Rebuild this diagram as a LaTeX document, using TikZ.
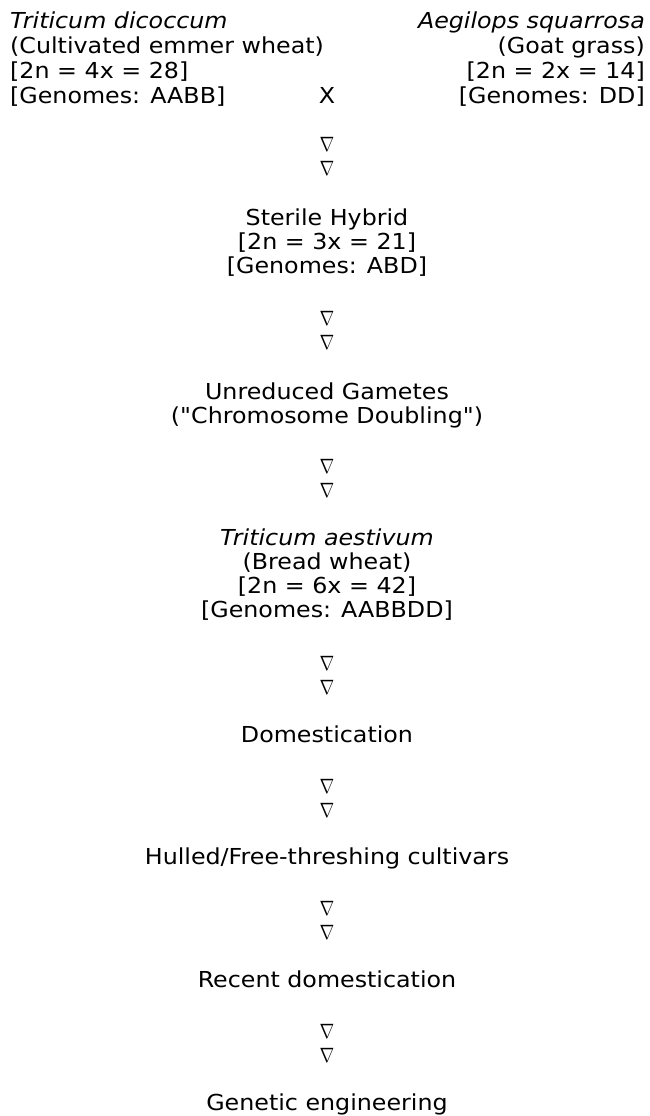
\documentclass[tikz,border=0pt]{standalone}
\usepackage{fontspec}
\usepackage{graphicx}
\newfontfamily\vfont{DejaVu Sans}[FakeStretch=1.08]
\newcommand{\fr}{\rule{0pt}{17pt}}
\newcommand{\nb}{\scalebox{0.85}[1]{$\nabla$}}
\begin{document}
\begin{tikzpicture}[x=1pt,y=-1pt,
  lbl/.style={inner sep=0pt,font=\vfont\fontsize{22}{24}\selectfont},
  blk/.style={lbl,align=center,anchor=north},
  nab/.style={inner sep=0pt,align=center,anchor=north,font=\fontsize{20}{24}\selectfont}]
\useasboundingbox (0,0) rectangle (650,1116);
\node[lbl,align=left,anchor=north west,font=\vfont\fontsize{22}{25}\selectfont] (dic) at (10,11) {\fr\textit{Triticum dicoccum}\\(Cultivated emmer wheat)\\{[2n = 4x = 28]}\\{[Genomes: AABB]}};
\node[lbl,align=right,anchor=north east,font=\vfont\fontsize{22}{25}\selectfont] (aeg) at (645,11) {\fr\textit{Aegilops squarrosa}\\(Goat grass)\\{[2n = 2x = 14]}\\{[Genomes: DD]}};
\node[lbl,anchor=base] (x) at (327,103) {X};
\node[nab] (n1) at (327,134) {\fr\nb\\\nb};
\node[blk] (hyb) at (327,208) {\fr Sterile Hybrid\\{[2n = 3x = 21]}\\{[Genomes: ABD]}};
\node[nab] (n2) at (327,308) {\fr\nb\\\nb};
\node[blk] (gam) at (327,382) {\fr Unreduced Gametes\\("Chromosome Doubling")};
\node[nab] (n3) at (327,456) {\fr\nb\\\nb};
\node[blk] (aes) at (327,528) {\fr\textit{Triticum aestivum}\\(Bread wheat)\\{[2n = 6x = 42]}\\{[Genomes: AABBDD]}};
\node[nab] (n4) at (327,653) {\fr\nb\\\nb};
\node[blk] (dom) at (327,725) {\fr Domestication};
\node[nab] (n5) at (327,776) {\fr\nb\\\nb};
\node[blk] (hul) at (327,847) {\fr Hulled/Free-threshing cultivars};
\node[nab] (n6) at (327,898) {\fr\nb\\\nb};
\node[blk] (rec) at (327,970) {\fr Recent domestication};
\node[nab] (n7) at (327,1021) {\fr\nb\\\nb};
\node[blk] (gen) at (327,1093) {\fr Genetic engineering};
\end{tikzpicture}
\end{document}
